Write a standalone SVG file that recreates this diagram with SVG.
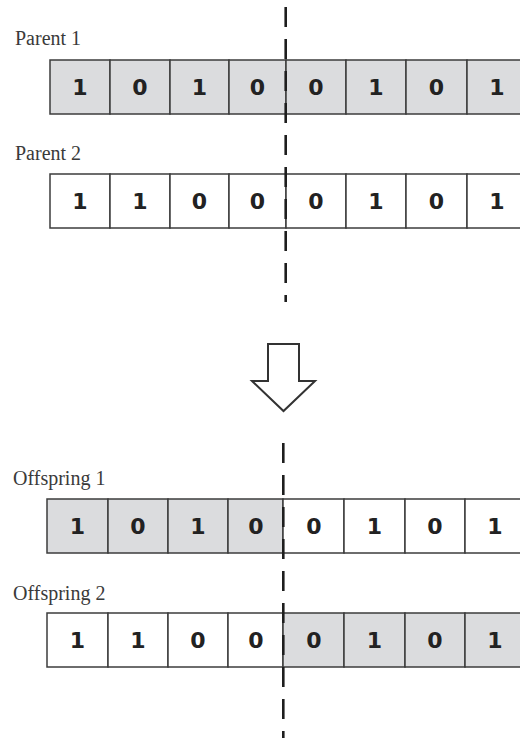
<svg xmlns="http://www.w3.org/2000/svg" width="520" height="738" viewBox="0 0 520 738">
  <style>
    .label { font-family: "Liberation Serif", "Times New Roman", serif; font-size: 20px; fill: #3a3a3a; }
    .bit { font-family: "DejaVu Sans", "Liberation Sans", sans-serif; font-weight: bold; font-size: 22px; fill: #222; text-anchor: middle; }
    .cell { stroke: #3c3c3c; stroke-width: 1.5; }
    .grey { fill: #dbdcde; }
    .white { fill: #ffffff; }
    .cut { stroke: #1e1e1e; stroke-width: 2.6; stroke-dasharray: 20 12; fill: none; }
    .arrow { fill: #ffffff; stroke: #333; stroke-width: 2; stroke-linejoin: miter; }
  </style>
  <rect width="520" height="738" fill="#ffffff"/>

  <!-- Parent 1 -->
  <g id="parent1">
    <text class="label" x="15" y="45">Parent 1</text>
    <rect class="cell grey" x="50" y="60" width="60" height="54"/>
    <rect class="cell grey" x="110" y="60" width="60" height="54"/>
    <rect class="cell grey" x="170" y="60" width="59" height="54"/>
    <rect class="cell grey" x="229" y="60" width="57" height="54"/>
    <rect class="cell grey" x="286" y="60" width="60" height="54"/>
    <rect class="cell grey" x="346" y="60" width="60" height="54"/>
    <rect class="cell grey" x="406" y="60" width="61" height="54"/>
    <rect class="cell grey" x="467" y="60" width="60" height="54"/>
    <text class="bit" x="80" y="95">1</text>
    <text class="bit" x="140" y="95">0</text>
    <text class="bit" x="199.5" y="95">1</text>
    <text class="bit" x="257.5" y="95">0</text>
    <text class="bit" x="316" y="95">0</text>
    <text class="bit" x="376" y="95">1</text>
    <text class="bit" x="436.5" y="95">0</text>
    <text class="bit" x="497" y="95">1</text>
  </g>

  <!-- Parent 2 -->
  <g id="parent2">
    <text class="label" x="15" y="160">Parent 2</text>
    <rect class="cell white" x="50" y="174" width="60" height="54"/>
    <rect class="cell white" x="110" y="174" width="60" height="54"/>
    <rect class="cell white" x="170" y="174" width="59" height="54"/>
    <rect class="cell white" x="229" y="174" width="57" height="54"/>
    <rect class="cell white" x="286" y="174" width="60" height="54"/>
    <rect class="cell white" x="346" y="174" width="60" height="54"/>
    <rect class="cell white" x="406" y="174" width="61" height="54"/>
    <rect class="cell white" x="467" y="174" width="60" height="54"/>
    <text class="bit" x="80" y="209">1</text>
    <text class="bit" x="140" y="209">1</text>
    <text class="bit" x="199.5" y="209">0</text>
    <text class="bit" x="257.5" y="209">0</text>
    <text class="bit" x="316" y="209">0</text>
    <text class="bit" x="376" y="209">1</text>
    <text class="bit" x="436.5" y="209">0</text>
    <text class="bit" x="497" y="209">1</text>
  </g>

  <!-- Offspring 1 -->
  <g id="offspring1">
    <text class="label" x="13" y="485">Offspring 1</text>
    <rect class="cell grey" x="47" y="499" width="61" height="54"/>
    <rect class="cell grey" x="108" y="499" width="60" height="54"/>
    <rect class="cell grey" x="168" y="499" width="60" height="54"/>
    <rect class="cell grey" x="228" y="499" width="55" height="54"/>
    <rect class="cell white" x="283" y="499" width="61" height="54"/>
    <rect class="cell white" x="344" y="499" width="61" height="54"/>
    <rect class="cell white" x="405" y="499" width="60" height="54"/>
    <rect class="cell white" x="465" y="499" width="60" height="54"/>
    <text class="bit" x="77.5" y="534">1</text>
    <text class="bit" x="138" y="534">0</text>
    <text class="bit" x="198" y="534">1</text>
    <text class="bit" x="256" y="534">0</text>
    <text class="bit" x="314" y="534">0</text>
    <text class="bit" x="374.5" y="534">1</text>
    <text class="bit" x="435" y="534">0</text>
    <text class="bit" x="495" y="534">1</text>
  </g>

  <!-- Offspring 2 -->
  <g id="offspring2">
    <text class="label" x="13" y="600">Offspring 2</text>
    <rect class="cell white" x="47" y="613" width="61" height="54"/>
    <rect class="cell white" x="108" y="613" width="60" height="54"/>
    <rect class="cell white" x="168" y="613" width="60" height="54"/>
    <rect class="cell white" x="228" y="613" width="55" height="54"/>
    <rect class="cell grey" x="283" y="613" width="61" height="54"/>
    <rect class="cell grey" x="344" y="613" width="61" height="54"/>
    <rect class="cell grey" x="405" y="613" width="60" height="54"/>
    <rect class="cell grey" x="465" y="613" width="60" height="54"/>
    <text class="bit" x="77.5" y="648">1</text>
    <text class="bit" x="138" y="648">1</text>
    <text class="bit" x="198" y="648">0</text>
    <text class="bit" x="256" y="648">0</text>
    <text class="bit" x="314" y="648">0</text>
    <text class="bit" x="374.5" y="648">1</text>
    <text class="bit" x="435" y="648">0</text>
    <text class="bit" x="495" y="648">1</text>
  </g>

  <!-- Block arrow from parents to offspring -->
  <g id="arrow">
    <polygon class="arrow" points="268,344 299,344 299,381 315,381 283.5,411 252,381 268,381"/>
  </g>

  <!-- Crossover cut lines -->
  <g id="connectors">
    <line class="cut" x1="285.7" y1="7" x2="285.7" y2="302"/>
    <line class="cut" x1="283.3" y1="443" x2="283.3" y2="738"/>
  </g>
</svg>
